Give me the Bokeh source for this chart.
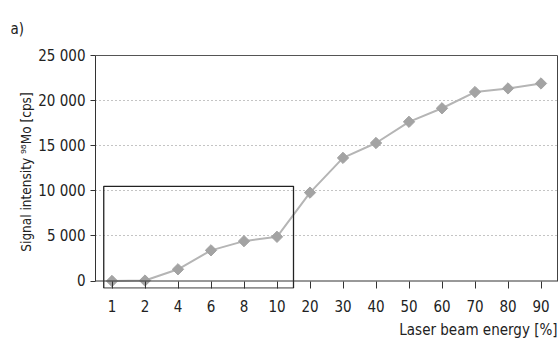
import math
from bokeh.plotting import figure
from bokeh.models import FixedTicker, LinearAxis, Title, Range1d, Span
from bokeh.embed import file_html
from bokeh.resources import INLINE

FONT = "DejaVu Sans Condensed"

energy_labels = ["1", "2", "4", "6", "8", "10", "20", "30", "40", "50", "60", "70", "80", "90"]
intensity = [0, 50, 1300, 3400, 4420, 4900, 9800, 13650, 15300, 17650, 19150, 20950, 21350, 21900]
y_ticks = [0, 5000, 10000, 15000, 20000, 25000]
y_tick_labels = ["0", "5 000", "10 000", "15 000", "20 000", "25 000"]

# zoom-box around the low-energy region (index units / data units)
box_left, box_right = -0.25, 5.5
box_bottom, box_top = -780, 10500

x_idx = list(range(len(energy_labels)))

p = figure(width=558, height=344, output_backend="svg", toolbar_location=None,
           x_range=Range1d(-0.5, len(energy_labels) - 0.5),
           y_range=Range1d(-830, 25000),
           min_border_left=95, min_border_right=1, min_border_top=53, min_border_bottom=56)
p.outline_line_color = None
p.background_fill_color = "white"
p.border_fill_color = "white"

# x axis (labels at frame bottom, ticks reaching up to the zero line)
xa = p.xaxis[0]
xa.ticker = FixedTicker(ticks=x_idx)
xa.major_label_overrides = {i: lab for i, lab in zip(x_idx, energy_labels)}
xa.major_tick_out = 0
xa.major_tick_in = 7
xa.minor_tick_out = 0
xa.minor_tick_in = 0
xa.axis_line_color = None
xa.major_tick_line_color = "#333333"
xa.major_label_text_font = FONT
xa.major_label_text_font_size = "15px"
xa.major_label_text_color = "#222222"
xa.major_label_standoff = 11

zero_line = Span(location=0, dimension="width", line_color="#333333", line_width=1)
p.add_layout(zero_line)

# y axis
ya = p.yaxis[0]
ya.ticker = FixedTicker(ticks=y_ticks)
ya.major_label_overrides = {t: lab for t, lab in zip(y_ticks, y_tick_labels)}
ya.bounds = (0, 25000)
ya.major_tick_out = 5
ya.major_tick_in = 0
ya.minor_tick_out = 0
ya.minor_tick_in = 0
ya.axis_line_color = "#333333"
ya.major_tick_line_color = "#333333"
ya.major_label_text_font = FONT
ya.major_label_text_font_size = "15px"
ya.major_label_text_color = "#222222"
ya.axis_label = "Signal intensity \u2079\u2078Mo [cps]"
ya.axis_label_text_font = FONT
ya.axis_label_text_font_size = "13.5px"
ya.axis_label_text_font_style = "normal"
ya.axis_label_text_color = "#222222"
ya.axis_label_standoff = 1
try:
    ya.axis_label_align = "right"
except Exception:
    pass

p.xgrid.visible = False
p.ygrid.ticker = FixedTicker(ticks=y_ticks[1:-1])
p.ygrid.grid_line_color = "#888888"
p.ygrid.grid_line_dash = "1 3"
p.ygrid.grid_line_width = 1

# top and right frame lines
top = LinearAxis(ticker=FixedTicker(ticks=[]), major_label_text_font_size="0px",
                 major_tick_out=0, minor_tick_out=0, axis_line_color="#555555")
p.add_layout(top, "above")
right = LinearAxis(ticker=FixedTicker(ticks=[]), major_label_text_font_size="0px",
                   major_tick_out=0, minor_tick_out=0, axis_line_color="#444444",
                   bounds=(0, 25000))
p.add_layout(right, "right")

p.add_layout(Title(text="a)", align="left", offset=-85, standoff=35, text_font=FONT,
                   text_font_size="15px", text_font_style="normal",
                   text_color="#222222"), "above")
p.add_layout(Title(text="Laser beam energy [%]", align="right", standoff=9, text_font=FONT,
                   text_font_size="15px", text_font_style="normal",
                   text_color="#222222"), "below")

p.line(x_idx, intensity, line_color="#b5b5b5", line_width=2)
p.scatter(x_idx, intensity, marker="square", angle=math.pi / 4, size=8,
          fill_color="#a3a3a3", line_color="#a3a3a3")
p.quad(left=[box_left], right=[box_right], bottom=[box_bottom], top=[box_top],
       fill_color=None, line_color="#222222", line_width=1.3)

open("out.html", "w").write(file_html(p, INLINE))
